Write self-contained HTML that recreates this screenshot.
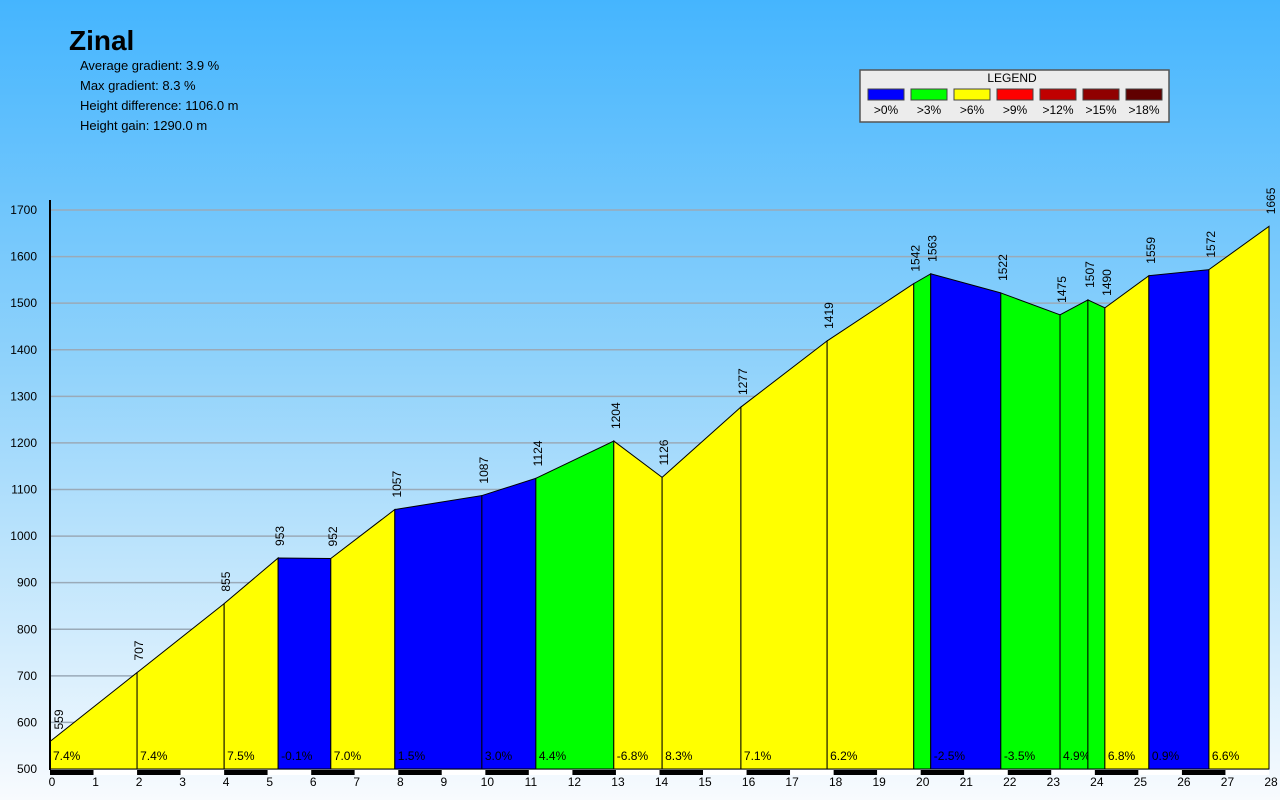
<!DOCTYPE html>
<html><head><meta charset="utf-8"><style>
body{margin:0;width:1280px;height:800px;overflow:hidden;font-family:"Liberation Sans",sans-serif}
#bg{position:absolute;left:0;top:0;width:1280px;height:800px;background:linear-gradient(#45b5fe,#8fd2fb 45%,#f8fbfe 100%)}
svg{position:absolute;left:0;top:0}
</style></head><body>
<div id="bg"></div>
<svg id="c" width="1280" height="800">
<text x="69" y="50" font-size="28" font-weight="bold" fill="#000">Zinal</text>
<g font-size="13" fill="#000">
<text x="80" y="70">Average gradient: 3.9 %</text>
<text x="80" y="90">Max gradient: 8.3 %</text>
<text x="80" y="110">Height difference: 1106.0 m</text>
<text x="80" y="130">Height gain: 1290.0 m</text>
</g>
<g>
<rect x="860" y="70" width="309" height="52" fill="#ececec" stroke="#555" stroke-width="1.5"/>
<text x="1012" y="82" font-size="12" text-anchor="middle">LEGEND</text>
<g id="leg"></g>
</g>
<g id="grid"></g><g id="plot"></g><g id="axes"></g>
</svg>
<script>
const kms=[0,2,4,5.24,6.45,7.92,9.92,11.16,12.95,14.06,15.87,17.85,19.84,20.23,21.84,23.2,23.84,24.23,25.24,26.62,28];
const elev=[559,707,855,953,952,1057,1087,1124,1204,1126,1277,1419,1542,1563,1522,1475,1507,1490,1559,1572,1665];
const segColors=["#ff0","#ff0","#ff0","#00f","#ff0","#00f","#00f","#0f0","#ff0","#ff0","#ff0","#ff0","#0f0","#00f","#0f0","#0f0","#0f0","#ff0","#00f","#ff0"];
const segLabels=["7.4%","7.4%","7.5%","-0.1%","7.0%","1.5%","3.0%","4.4%","-6.8%","8.3%","7.1%","6.2%","","-2.5%","-3.5%","4.9%","","6.8%","0.9%","6.6%"];
const yTicks=[500,600,700,800,900,1000,1100,1200,1300,1400,1500,1600,1700];
const xTicks=[0,1,2,3,4,5,6,7,8,9,10,11,12,13,14,15,16,17,18,19,20,21,22,23,24,25,26,27,28];
const legColors=["#0000ff","#00ff00","#ffff00","#ff0000","#c00000","#900000","#600000"];
const legLabels=[">0%",">3%",">6%",">9%",">12%",">15%",">18%"];
const NS="http://www.w3.org/2000/svg";
const X=k=>50+k*(1269-50)/28, Y=v=>769-(v-500)*(769-210)/1200;
function mk(t,a,p){const e=document.createElementNS(NS,t);for(const k in a)e.setAttribute(k,a[k]);p.appendChild(e);return e;}
const grid=document.getElementById('grid'),plot=document.getElementById('plot'),axes=document.getElementById('axes'),leg=document.getElementById('leg');
legColors.forEach((c,i)=>{const r=mk('rect',{x:868+i*43,y:89,width:36,height:11,fill:c,stroke:'#444'},leg);


const t=mk('text',{x:886+i*43,y:114,'font-size':12,'text-anchor':'middle'},leg);t.textContent=legLabels[i];

});
yTicks.forEach(v=>{const l=mk('line',{x1:50,x2:1269,y1:Y(v),y2:Y(v),stroke:'#9aaab8','stroke-width':1.5},grid);


const t=mk('text',{x:37,y:Y(v)+4,'font-size':12,'text-anchor':'end'},axes);t.textContent=v;

});
for(let i=0;i<kms.length-1;i++){
 const x1=X(kms[i]),x2=X(kms[i+1]),b=Y(500);
 const p=mk('polygon',{points:`${x1},${b} ${x1},${Y(elev[i])} ${x2},${Y(elev[i+1])} ${x2},${b}`,fill:segColors[i],stroke:'#000','stroke-width':1},plot);
 
 
 if(segLabels[i]){const t=mk('text',{x:x1+3,y:760,'font-size':12},plot);t.textContent=segLabels[i];
 
 }
}
kms.forEach((k,i)=>{const x=X(k)+(i==0?13:6),y=Y(elev[i])-12;const t=mk('text',{x:x,y:y,'font-size':12,transform:`rotate(-90 ${x} ${y})`},plot);t.textContent=elev[i];

});
mk('line',{x1:50,x2:50,y1:200,y2:770,stroke:'#000','stroke-width':2},axes);
xTicks.forEach((k,i)=>{if(i<28){const r=mk('rect',{x:X(k),y:770,width:X(1)-X(0),height:5,fill:i%2?'#fff':'#000'},axes);

}
const t=mk('text',{x:X(k)+2,y:786,'font-size':12,'text-anchor':'middle'},axes);t.textContent=k;

});
</script>
</body></html>
